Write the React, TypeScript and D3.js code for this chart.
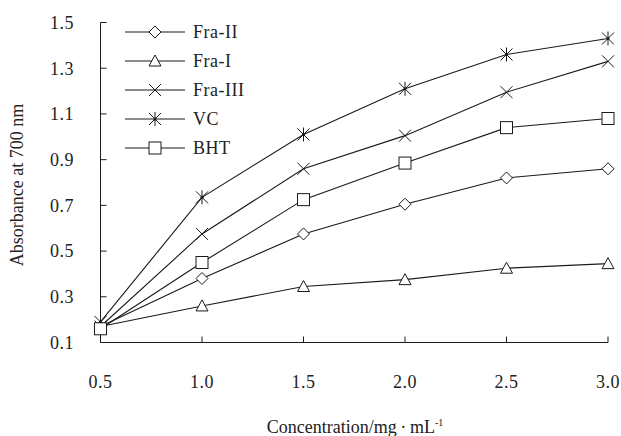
import React from 'react';
import * as d3 from 'd3';

const concentrations = [0.5, 1.0, 1.5, 2.0, 2.5, 3.0];
const fraII = [0.17, 0.38, 0.575, 0.705, 0.82, 0.86];
const fraI = [0.17, 0.26, 0.345, 0.375, 0.425, 0.445];
const fraIII = [0.17, 0.575, 0.86, 1.005, 1.195, 1.33];
const vc = [0.19, 0.735, 1.01, 1.21, 1.36, 1.43];
const bht = [0.16, 0.45, 0.725, 0.885, 1.04, 1.08];
const yTicks = [0.1, 0.3, 0.5, 0.7, 0.9, 1.1, 1.3, 1.5];
const xTicks = [0.5, 1.0, 1.5, 2.0, 2.5, 3.0];

type Shape = 'diamond' | 'triangle' | 'x' | 'asterisk' | 'square';

const series: { name: string; values: number[]; shape: Shape }[] = [
  { name: 'Fra-II', values: fraII, shape: 'diamond' },
  { name: 'Fra-I', values: fraI, shape: 'triangle' },
  { name: 'Fra-III', values: fraIII, shape: 'x' },
  { name: 'VC', values: vc, shape: 'asterisk' },
  { name: 'BHT', values: bht, shape: 'square' },
];

const ink = '#1a1a1a';
const textInk = '#222';
const font = '"Liberation Serif", "Times New Roman", serif';

function Marker({ shape, x, y }: { shape: Shape; x: number; y: number }) {
  const s = 6;
  switch (shape) {
    case 'diamond':
      return <path d={`M${x},${y - s}L${x + s},${y}L${x},${y + s}L${x - s},${y}Z`} fill="#fff" stroke={ink} strokeWidth={1} />;
    case 'triangle':
      return <path d={`M${x},${y - 6}L${x + 6},${y + 5}L${x - 6},${y + 5}Z`} fill="#fff" stroke={ink} strokeWidth={1} />;
    case 'square':
      return <rect x={x - 6} y={y - 6} width={12} height={12} fill="#fff" stroke={ink} strokeWidth={1} />;
    case 'x':
      return <path d={`M${x - 6},${y - 6}L${x + 6},${y + 6}M${x + 6},${y - 6}L${x - 6},${y + 6}`} stroke={ink} strokeWidth={1} />;
    case 'asterisk':
      return (
        <g>
          <path d={`M${x - 6},${y - 6}L${x + 6},${y + 6}M${x + 6},${y - 6}L${x - 6},${y + 6}M${x},${y - 7}L${x},${y + 7}`} stroke={ink} strokeWidth={1} />
          <circle cx={x} cy={y} r={1.5} fill={ink} />
        </g>
      );
  }
}

export default function App() {
  const x = d3.scaleLinear().domain([0.5, 3.0]).range([100.5, 608]);
  const y = d3.scaleLinear().domain([0.1, 1.5]).range([342.5, 22.5]);
  const line = d3.line<number>().x((_, i) => x(concentrations[i])).y(d => y(d));

  return (
    <svg width={621} height={436} style={{ position: 'absolute', left: 0, top: 0, background: '#fff' }} fontFamily={font}>
      <rect width={621} height={436} fill="#fff" />
      {/* axes */}
      <line x1={x(0.5)} x2={x(0.5)} y1={y(1.5)} y2={y(0.1)} stroke={ink} />
      <line x1={x(0.5)} x2={x(3.0)} y1={y(0.1)} y2={y(0.1)} stroke={ink} />
      {yTicks.map(t => (
        <g key={t}>
          <line x1={x(0.5)} x2={x(0.5) + 6} y1={y(t)} y2={y(t)} stroke={ink} />
          <text x={74} y={y(t)} dy="0.35em" textAnchor="end" fontSize={18} letterSpacing={0.5} fill={textInk}>{t.toFixed(1)}</text>
        </g>
      ))}
      {xTicks.map(t => (
        <g key={t}>
          <line x1={x(t)} x2={x(t)} y1={y(0.1)} y2={y(0.1) - 6} stroke={ink} />
          <text x={x(t)} y={388} textAnchor="middle" fontSize={18} letterSpacing={0.5} fill={textInk}>{t.toFixed(1)}</text>
        </g>
      ))}
      <text transform="translate(23,185) rotate(-90)" textAnchor="middle" fontSize={18} fill={textInk}>Absorbance at 700 nm</text>
      <text x={355} y={433} textAnchor="middle" fontSize={18} fill={textInk}>
        Concentration/mg{'\u2009'}·{'\u2009'}mL<tspan dy={-7} fontSize={10}>-1</tspan>
      </text>
      {/* lines */}
      {series.map(s => (
        <path key={s.name} d={line(s.values) || ''} fill="none" stroke={ink} strokeWidth={1.1} />
      ))}
      {series.map(s => (
        <g key={s.name + '-m'}>
          {s.values.map((v, i) => (
            <Marker key={i} shape={s.shape} x={x(concentrations[i])} y={y(v)} />
          ))}
        </g>
      ))}
      {/* legend */}
      {series.map((s, i) => {
        const ly = 32 + i * 29;
        return (
          <g key={s.name + '-l'}>
            <line x1={125} x2={185} y1={ly} y2={ly} stroke={ink} strokeWidth={1.1} />
            <Marker shape={s.shape} x={155} y={ly} />
            <text x={193} y={ly} dy="0.35em" fontSize={18} letterSpacing={0.5} fill={textInk}>{s.name}</text>
          </g>
        );
      })}
    </svg>
  );
}
